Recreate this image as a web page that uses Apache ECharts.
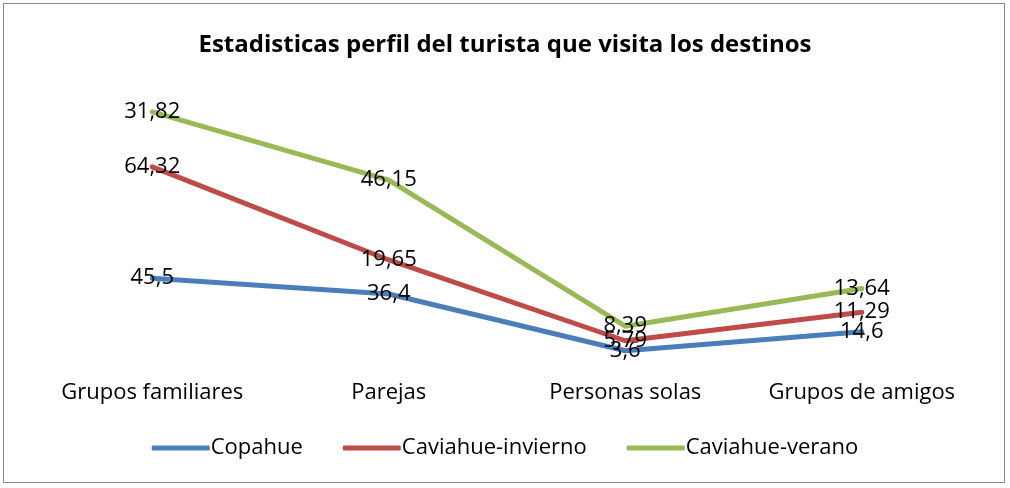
<!DOCTYPE html>
<html><head><meta charset="utf-8">
<script src="https://cdn.jsdelivr.net/npm/echarts@6/dist/echarts.min.js"></script>
<style>html,body{margin:0;padding:0;background:#fff}#c{width:1010px;height:488px;position:relative}
#frame{position:absolute;left:3px;top:3px;width:1002px;height:480px;border:1px solid #888;box-sizing:border-box;pointer-events:none}</style>
</head><body><div id="c"></div><div id="frame"></div>
<script>
const categories = ["Grupos familiares", "Parejas", "Personas solas", "Grupos de amigos"];
const copahue = [45.5, 36.4, 3.6, 14.6];
const caviahueInvierno = [64.32, 19.65, 5.79, 11.29];
const caviahueVerano = [31.82, 46.15, 8.39, 13.64];
const seriesNames = ["Copahue", "Caviahue-invierno", "Caviahue-verano"];
const colors = ["#4A7EBB", "#BE4B48", "#98B954"];
const FONT = "Open Sans";

const chart = echarts.init(document.getElementById('c'));
const mk = (name, data, i) => ({
  name, type: 'line', stack: 'total', data, showSymbol: true, symbol: 'circle', symbolSize: 3,
  lineStyle: { width: 5, color: colors[i], cap: 'round', join: 'round' },
  itemStyle: { color: colors[i] },
  label: {
    show: true, position: 'inside', color: '#000', fontFamily: FONT, fontSize: 22,
    formatter: p => String(p.value).replace('.', ',')
  },
  labelLayout: { hideOverlap: false },
  z: 2 + i
});
chart.setOption({
  animation: false,
  title: { text: 'Estadisticas perfil del turista que visita los destinos', left: 'center', top: 28,
    textStyle: { fontFamily: FONT, fontWeight: 'bold', fontSize: 24, color: '#000' } },
  legend: { bottom: 24, left: 'center', itemWidth: 58, itemHeight: 5, itemGap: 40, icon: 'roundRect',
    textStyle: { fontFamily: FONT, fontSize: 22, color: '#000', padding: [0, 0, 0, -4] },
    data: seriesNames },
  grid: { left: 34, right: 30, top: 80, bottom: 131 },
  xAxis: { type: 'category', data: categories, boundaryGap: true,
    axisLine: { show: false }, axisTick: { show: false },
    axisLabel: { interval: 0, margin: 25, fontFamily: FONT, fontSize: 22, color: '#000' } },
  yAxis: { type: 'value', min: 0, max: 160, show: false, splitLine: { show: false } },
  series: [mk(seriesNames[0], copahue, 0), mk(seriesNames[1], caviahueInvierno, 1), mk(seriesNames[2], caviahueVerano, 2)]
});
</script></body></html>
